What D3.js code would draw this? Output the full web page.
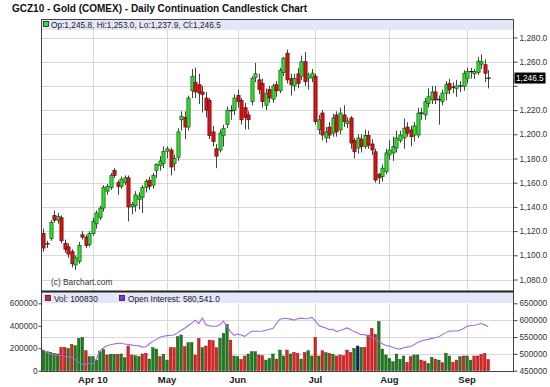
<!DOCTYPE html>
<html>
<head>
<meta charset="utf-8">
<script src="https://cdn.jsdelivr.net/npm/d3@7"></script>
<style>
  body { margin: 0; background: #fff; }
  text { font-family: "Liberation Sans", Arial, sans-serif; }
</style>
</head>
<body>
<div id="chart"></div>
<script>
// daily OHLC, GCZ10, 2010-03-12 .. 2010-09-10 (one value per trading day)
const opens = [1118,1110,1114,1133,1129,1131,1110,1107,1103,1092,
  1095,1117,1115,1109,1118,1126,1131,1139,1153,1156,
  1170,1160,1157,1160,1164,1140,1141,1146,1148,1156,
  1162,1158,1170,1174,1176,1186,1187,1176,1181,1212,
  1214,1206,1236,1243,1241,1235,1230,1228,1202,1188,
  1187,1199,1208,1219,1220,1232,1228,1222,1216,1227,
  1247,1245,1242,1224,1237,1229,1241,1236,1251,1267,
  1246,1240,1250,1248,1260,1246.5,1246.5,1248,1204,1217.6,
  1197,1206,1201,1216,1203.6,1216,1209,1213.5,1195,1188.7,
  1196,1190,1199,1192,1185.6,1167,1165,1169,1183,1184.5,
  1188.7,1195,1197,1206,1203.6,1199.4,1199.4,1217,1216,1225.6,
  1228.4,1235,1228.4,1227,1234,1242,1239.5,1238,1239,1239.5,
  1246,1251.5,1250,1251,1258,1257.5,1245.8];
const highs = [1122,1112,1129,1137,1135,1133,1113,1110,1105,1100,
  1111,1120,1117,1120,1131,1137,1141,1158,1159,1168,
  1172,1162,1165,1166,1166,1144,1153,1152,1158,1163,
  1165,1168,1176,1182,1190,1190,1189,1183,1205,1219,
  1219,1232,1254,1255,1250,1240,1235,1230,1207,1192,
  1204,1208,1223,1224,1233,1237,1230,1226,1219,1248,
  1259,1250,1246,1238,1240,1242,1244,1255,1264,1270,
  1250,1250,1255,1265,1268,1251,1254,1250,1216,1220,
  1206,1210,1217,1219,1222,1224,1214,1215,1197,1200,
  1200,1204,1203,1196,1188,1168,1175,1188,1195,1198,
  1203,1203,1213,1210,1207,1210,1222,1222,1230,1238,
  1240,1240,1232,1237,1244,1246,1243,1245,1244,1253,
  1255,1255,1254,1264,1266,1262,1253];
const lows = [1103,1106,1112,1127,1126,1110,1102,1098,1090,1088,
  1093,1113,1106,1107,1116,1122,1129,1136,1150,1154,
  1164,1150,1155,1158,1128,1134,1136,1138,1135,1152,
  1154,1155,1164,1170,1172,1180,1166,1170,1178,1203,
  1196,1203,1230,1230,1225,1218,1214,1196,1190,1172,
  1185,1190,1205,1212,1216,1222,1208,1204,1204,1224,
  1243,1233,1222,1220,1226,1226,1231,1234,1248,1242,
  1232,1236,1238,1245,1240,1237,1243,1208,1200,1195,
  1193,1196,1198,1198,1200,1206,1205,1188,1180,1184,
  1185,1188,1188,1183,1160,1159,1161,1167,1179,1178,
  1185,1193,1188,1198,1190,1194,1197,1212,1212,1222,
  1225,1225,1208,1224,1228,1233,1234,1231,1235,1236,
  1242,1246,1246,1249,1254,1243,1237.9];
const closes = [1106,1109.5,1127,1129,1132,1112,1105,1101,1093,1098,
  1108,1115,1108,1118,1128,1135,1139,1156,1157,1166,
  1166,1157,1163,1164,1140,1142,1150,1149,1156,1161,
  1157,1166,1175,1178,1186,1188,1173,1180,1202,1215,
  1206,1230,1248,1235,1234,1233,1220,1199,1194,1182,
  1201,1205,1220,1219.5,1230,1227,1212,1214,1212,1246,
  1250,1237,1227,1234,1230,1240,1236,1253,1263,1245,
  1241,1246,1242,1260,1243.5,1249,1250.5,1210.4,1212,1199.4,
  1202,1199.4,1213.5,1202,1217.6,1210.4,1211,1192.8,1185.6,1197,
  1190,1199,1191,1187,1162.2,1164,1172,1184.6,1187,1189.8,
  1197,1199.4,1205,1201,1198,1207,1217.6,1217.5,1227,1231,
  1235,1228.4,1228.6,1234,1241,1237,1239,1240,1240,1250.5,
  1252,1251.8,1252,1260.5,1260,1250.5,1246.5];

const volumes = [184000,169000,163000,155000,149000,208000,208000,199000,235000,223000,
  288000,297000,178000,125000,125000,95000,169000,190000,140000,146000,
  146000,146000,149000,116000,220000,140000,134000,125000,149000,155000,
  104000,205000,193000,125000,146000,95000,205000,205000,303000,318000,
  214000,250000,250000,140000,288000,205000,220000,273000,267000,205000,
  288000,333000,413000,273000,131000,125000,101000,131000,149000,169000,
  169000,140000,134000,95000,110000,149000,
  104000,184000,131000,184000,149000,163000,155000,104000,163000,178000,
  131000,297000,131000,178000,160000,155000,146000,131000,140000,134000,
  184000,163000,199000,220000,208000,208000,318000,377000,324000,437000,
  193000,140000,110000,80000,149000,101000,131000,74000,125000,140000,
  140000,95000,86000,65000,119000,104000,95000,71000,155000,131000,
  74000,95000,125000,131000,131000,95000,131000,131000,146000,155000,
  100830];
// g = up day, r = down day, b = unchanged
const volumeDirection = ("gggggrrgrg" + "ggrgggggrg" + "grggrrggrr" + "gggrggrrgg" +
  "rggrrgrrrr" + "gggrggrrgg" + "grrggg" + "rggrgrrgrg" + "grgrgrgrrr" +
  "rrgbgrrrrg" + "gggggggrrg" + "grrggrgrgg" + "rrgrggrrrr" + "r").split("");
const openInterest = [510000,503000,500000,497000,496000,495000,493000,491000,490000,482000,
  475000,470000,468000,472000,470000,485000,510000,518000,524000,527000,
  529000,531000,532000,529000,528000,526000,525000,524000,520000,521000,
  530000,537000,543000,549000,552000,554000,555000,556000,563000,570000,
  576000,584000,591000,600000,590000,607000,586000,583000,582000,582000,
  586000,597000,581000,566000,555000,559000,556000,552000,560000,567000,
  567000,567000,568000,570000,573000,575000,590000,603000,605000,605000,
  603000,600000,604000,606000,604000,605000,608000,598000,585000,580000,
  577000,572000,573000,566000,569000,573000,577000,572000,566000,562000,
  557000,557000,553000,549000,545000,537000,530000,525000,523000,519000,
  516000,514000,518000,520000,522000,527000,534000,538000,541000,543000,
  546000,548000,551000,557000,563000,568000,568000,568000,570000,575000,
  582000,584000,585000,587000,590000,586000,580541];

const priceTicks = [1080,1100,1120,1140,1160,1180,1200,1220,1240,1260,1280];
const volumeTicks = [0,200000,400000,600000];
const oiTicks = [450000,500000,550000,600000,650000];
const holidays = ["2010-04-02","2010-05-31","2010-07-05","2010-09-06"];

const n = closes.length;
const isoDay = d3.utcFormat("%Y-%m-%d");
const dates = d3.utcDay.range(new Date(Date.UTC(2010, 2, 12)), new Date(Date.UTC(2010, 8, 11)))
  .filter(d => d.getUTCDay() % 6 !== 0 && !holidays.includes(isoDay(d)))
  .slice(0, n);

const width = 550, height = 387;
const plotLeft = 41, plotRight = 513, plotTop = 19, split = 291.5, plotBottom = 371;

const svg = d3.select("#chart").append("svg")
  .attr("width", width)
  .attr("height", height);

const x = d3.scaleBand().domain(d3.range(n)).range([41.7, 490]);
const cx = i => x(i) + x.bandwidth() / 2;
const y = d3.scaleLinear().domain([1080, 1280]).range([279.5, 37.5]);
const yVol = d3.scaleLinear().domain([0, 600000]).range([370.7, 303.3]);
const yOI = d3.scaleLinear().domain([450000, 650000]).range([370.7, 303.3]);

// title
svg.append("text")
  .attr("x", 12).attr("y", 11.5)
  .attr("font-size", 10).attr("font-weight", "bold").attr("fill", "#111")
  .text("GCZ10 - Gold (COMEX) - Daily Continuation Candlestick Chart");

// month starts
const monthStarts = d3.range(1, n).filter(i => dates[i].getUTCMonth() !== dates[i - 1].getUTCMonth());
const firstFmt = d3.utcFormat("%b %y"), monthFmt = d3.utcFormat("%b");

const grid = svg.append("g").attr("stroke", "#d9d9d9").attr("stroke-width", 1);
priceTicks.forEach(t => {
  grid.append("line").attr("x1", plotLeft).attr("x2", plotRight)
    .attr("y1", Math.round(y(t)) + 0.5).attr("y2", Math.round(y(t)) + 0.5);
});
oiTicks.slice(1, -1).forEach(t => {
  grid.append("line").attr("x1", plotLeft).attr("x2", plotRight)
    .attr("y1", Math.round(yOI(t)) + 0.5).attr("y2", Math.round(yOI(t)) + 0.5);
});
monthStarts.forEach(i => {
  const gx = Math.round(cx(i)) + 0.5;
  grid.append("line").attr("x1", gx).attr("x2", gx).attr("y1", 30).attr("y2", split);
  grid.append("line").attr("x1", gx).attr("x2", gx).attr("y1", 303).attr("y2", plotBottom);
});

// legend bars
svg.append("rect").attr("x", plotLeft).attr("y", plotTop).attr("width", plotRight - plotLeft).attr("height", 11)
  .attr("fill", "#e4e6fa");
svg.append("rect").attr("x", plotLeft).attr("y", split + 1).attr("width", plotRight - plotLeft).attr("height", 10.5)
  .attr("fill", "#e4e6fa");

// candles
const defs = svg.append("defs");
defs.append("clipPath").attr("id", "clip-price")
  .append("rect").attr("x", plotLeft).attr("y", plotTop + 11)
  .attr("width", plotRight - plotLeft).attr("height", split - plotTop - 11);

const candles = svg.append("g").attr("clip-path", "url(#clip-price)");
const fmt = d3.format(",.1f");

d3.range(n).forEach(i => {
  const o = opens[i], h = highs[i], l = lows[i], c = closes[i];
  const px = Math.round(cx(i)) + 0.5;
  candles.append("line")
    .attr("x1", px).attr("x2", px)
    .attr("y1", y(h)).attr("y2", y(l))
    .attr("stroke", "#444").attr("stroke-width", 1);
  if (Math.abs(c - o) <= 1) {
    candles.append("line")
      .attr("x1", px - 2.2).attr("x2", px + 2.2)
      .attr("y1", y(c)).attr("y2", y(c))
      .attr("stroke", "#111").attr("stroke-width", 1.2);
  } else {
    const up = c > o;
    candles.append("rect")
      .attr("x", px - 1.6).attr("width", 3.2)
      .attr("y", y(Math.max(o, c)))
      .attr("height", Math.max(1, Math.abs(y(o) - y(c))))
      .attr("fill", up ? "#2fe02f" : "#e01010")
      .attr("stroke", up ? "#155515" : "#551010")
      .attr("stroke-width", 0.7);
  }
});

// volume bars
const volColors = { g: "#1d7d1d", r: "#e42020", b: "#16167a" };
const volStroke = { g: "#0d400d", r: "#7a1010", b: "#0a0a40" };
svg.append("g").selectAll("rect")
  .data(volumes)
  .join("rect")
  .attr("x", (d, i) => cx(i) - 1.3)
  .attr("width", 2.6)
  .attr("y", d => yVol(d))
  .attr("height", d => yVol(0) - yVol(d))
  .attr("fill", (d, i) => volColors[volumeDirection[i]])
  .attr("stroke", (d, i) => volStroke[volumeDirection[i]])
  .attr("stroke-width", 0.4);

// open interest
svg.append("path")
  .datum(openInterest)
  .attr("fill", "none")
  .attr("stroke", "#a46be0")
  .attr("stroke-width", 1.1)
  .attr("d", d3.line().x((d, i) => cx(i)).y(d => yOI(d)));

// frames
svg.append("rect").attr("x", plotLeft + 0.5).attr("y", plotTop + 0.5)
  .attr("width", plotRight - plotLeft).attr("height", plotBottom - plotTop)
  .attr("fill", "none").attr("stroke", "#444");
svg.append("line").attr("x1", plotLeft).attr("x2", plotRight + 0.5).attr("y1", split).attr("y2", split)
  .attr("stroke", "#222").attr("stroke-width", 2);

// axes
const priceAxis = svg.append("g")
  .attr("transform", `translate(${plotRight + 0.5},0)`)
  .call(d3.axisRight(y).tickValues(priceTicks).tickSize(4).tickPadding(2)
    .tickFormat(d => d === 1240 ? "" : fmt(d)));
const volAxis = svg.append("g")
  .attr("transform", `translate(${plotLeft + 0.5},0)`)
  .call(d3.axisLeft(yVol).tickValues(volumeTicks).tickSize(3).tickPadding(1).tickFormat(d3.format("d")));
const oiAxis = svg.append("g")
  .attr("transform", `translate(${plotRight + 0.5},0)`)
  .call(d3.axisRight(yOI).tickValues(oiTicks).tickSize(4).tickPadding(2).tickFormat(d3.format("d")));
[priceAxis, volAxis, oiAxis].forEach(a => {
  a.select(".domain").remove();
  a.selectAll("line").attr("stroke", "#444");
  a.selectAll("text").attr("fill", "#333").attr("font-size", 8.3)
    .attr("font-family", "'Liberation Sans', Arial, sans-serif");
});

// last price tag
const last = n - 1;
svg.append("rect").attr("x", plotRight + 1.5).attr("y", y(closes[last]) - 5.5)
  .attr("width", 31).attr("height", 11).attr("fill", "#000");
svg.append("text").attr("x", plotRight + 3).attr("y", y(closes[last]) + 3)
  .attr("font-size", 8.3).attr("fill", "#fff").text(fmt(closes[last]));

// month labels
monthStarts.forEach((i, k) => {
  svg.append("text")
    .attr("x", cx(i)).attr("y", 382.5)
    .attr("text-anchor", "middle")
    .attr("font-size", 9.5).attr("font-weight", "bold").attr("fill", "#222")
    .text(k === 0 ? firstFmt(dates[i]) : monthFmt(dates[i]));
});

// legends
svg.append("rect").attr("x", 43.5).attr("y", 21.5).attr("width", 5).attr("height", 5)
  .attr("fill", "#2fe02f").attr("stroke", "#222").attr("stroke-width", 0.8);
svg.append("text").attr("x", 51).attr("y", 27.5).attr("font-size", 8.3).attr("fill", "#222")
  .text(`Op:${fmt(opens[last])}, Hi:${fmt(highs[last])}, Lo:${fmt(lows[last])}, Cl:${fmt(closes[last])}`);

svg.append("rect").attr("x", 45.5).attr("y", 295.5).attr("width", 5).attr("height", 5)
  .attr("fill", "#e42020").attr("stroke", "#222").attr("stroke-width", 0.8);
svg.append("text").attr("x", 54).attr("y", 301.5).attr("font-size", 8.3).attr("fill", "#222")
  .text(`Vol: ${volumes[last]}`);
svg.append("rect").attr("x", 119.5).attr("y", 295.5).attr("width", 5).attr("height", 5)
  .attr("fill", "#8a2be2").attr("stroke", "#222").attr("stroke-width", 0.8);
svg.append("text").attr("x", 128).attr("y", 301.5).attr("font-size", 8.3).attr("fill", "#222")
  .text(`Open Interest: ${fmt(openInterest[last])}`);

svg.append("text").attr("x", 51).attr("y", 284.5).attr("font-size", 8.3).attr("fill", "#333")
  .text("(c) Barchart.com");
</script>
</body>
</html>
